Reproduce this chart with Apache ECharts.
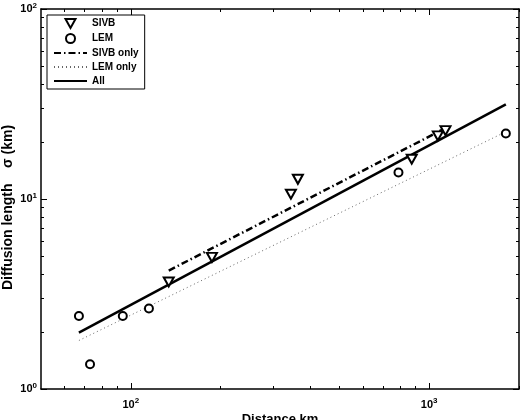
<!DOCTYPE html>
<html>
<head>
<meta charset="utf-8">
<script src="https://cdn.jsdelivr.net/npm/echarts@6/dist/echarts.min.js"></script>
<style>
  html, body { margin: 0; padding: 0; background: #fff; }
  #chart { width: 527px; height: 420px; }
</style>
</head>
<body>
<div id="chart"></div>
<script>
// data (distance km, sigma km)
const sivbPoints = [
  [134, 3.66], [187, 4.93], [344, 10.6], [363, 12.7],
  [874, 16.2], [1069, 21.5], [1134, 22.9]
]
const lemPoints = [
  [67, 2.42], [73, 1.35], [94, 2.42], [115, 2.65],
  [789, 13.8], [1807, 22.1]
]
// fitted lines, endpoints only
const sivbFit = [[134, 4.2], [1134, 23.6]]
const lemFit = [[67, 1.8], [1807, 22.6]]
const allFit = [[67, 1.98], [1807, 31.5]]

const xMajor = [100, 1000]
const xMinor = [60, 70, 80, 90, 200, 300, 400, 500, 600, 700, 800, 900, 2000]
const yMajor = [1, 10, 100]
const yMinor = [2, 3, 4, 5, 6, 7, 8, 9, 20, 30, 40, 50, 60, 70, 80, 90]

const FONT = "Liberation Sans"
const chart = echarts.init(document.getElementById("chart"))

const powLabel = (v) => "{b|10}{s|" + Math.round(Math.log10(v)) + "}"
const labelRich = {
  b: { fontFamily: FONT, fontSize: 11, fontWeight: "bold", color: "#000" },
  s: { fontFamily: FONT, fontSize: 8, fontWeight: "bold", color: "#000", padding: [0, 0, 7, 0] },
}

function xAxisOf(pos, major, withLabels) {
  return {
    type: "log", logBase: 10, min: 50, max: 2000, position: pos,
    axisLine: { show: major, lineStyle: { color: "#000", width: 1.5 } },
    axisTick: {
      show: true, inside: true, length: major ? 6 : 3,
      customValues: major ? xMajor : xMinor,
      lineStyle: { color: "#000", width: 1 },
    },
    axisLabel: withLabels
      ? { show: true, customValues: xMajor, margin: 8, formatter: powLabel, rich: labelRich }
      : { show: false },
    splitLine: { show: false },
    minorTick: { show: false },
    name: withLabels ? "Distance km" : "",
    nameLocation: "middle",
    nameGap: 24,
    nameMoveOverlap: false,
    nameTextStyle: { fontFamily: FONT, fontSize: 13, fontWeight: "bold", color: "#000" },
  }
}

function yAxisOf(pos, major, withLabels) {
  return {
    type: "log", logBase: 10, min: 1, max: 100, position: pos,
    axisLine: { show: major, lineStyle: { color: "#000", width: 1.5 } },
    axisTick: {
      show: true, inside: true, length: major ? 6 : 3,
      customValues: major ? yMajor : yMinor,
      lineStyle: { color: "#000", width: 1 },
    },
    axisLabel: withLabels
      ? { show: true, customValues: yMajor, margin: 4, formatter: powLabel, rich: labelRich }
      : { show: false },
    splitLine: { show: false },
    minorTick: { show: false },
    name: withLabels ? "Diffusion length    \u03c3 (km)" : "",
    nameLocation: "middle",
    nameGap: 26,
    nameMoveOverlap: false,
    nameTextStyle: { fontFamily: FONT, fontSize: 14, fontWeight: "bold", color: "#000", padding: [0, 17, 0, 0] },
  }
}

const downTriangle = "path://M0,0 L10,0 L5,9 Z"
const noMarker = { color: "rgba(0,0,0,0)" }

chart.setOption({
  animation: false,
  backgroundColor: "#fff",
  grid: { left: 41, right: 8, top: 9, bottom: 31, outerBoundsMode: "none" },
  xAxis: [
    xAxisOf("bottom", true, true),
    xAxisOf("bottom", false, false),
    xAxisOf("top", true, false),
    xAxisOf("top", false, false),
  ],
  yAxis: [
    yAxisOf("left", true, true),
    yAxisOf("left", false, false),
    yAxisOf("right", true, false),
    yAxisOf("right", false, false),
  ],
  legend: {
    orient: "vertical",
    left: 47, top: 15,
    backgroundColor: "#fff",
    borderColor: "#000", borderWidth: 1,
    padding: [3, 6, 3, 6],
    itemWidth: 33, itemHeight: 9, itemGap: 4,
    textStyle: { fontFamily: FONT, fontSize: 10, fontWeight: "bold", color: "#000" },
    data: ["SIVB", "LEM", "SIVB only", "LEM only", "All"],
  },
  series: [
    {
      name: "SIVB", type: "scatter", data: sivbPoints,
      symbol: downTriangle, symbolSize: [10, 9],
      itemStyle: { color: "#fff", borderColor: "#000", borderWidth: 2, opacity: 1 },
      z: 5,
    },
    {
      name: "LEM", type: "scatter", data: lemPoints,
      symbol: "circle", symbolSize: 8,
      itemStyle: { color: "#fff", borderColor: "#000", borderWidth: 2, opacity: 1 },
      z: 5,
    },
    {
      name: "SIVB only", type: "line", data: sivbFit, symbol: "none", itemStyle: noMarker,
      lineStyle: { color: "#000", width: 2.5, type: [7, 3, 1.5, 3] },
    },
    {
      name: "LEM only", type: "line", data: lemFit, symbol: "none", itemStyle: noMarker,
      lineStyle: { color: "#666", width: 1, type: [1, 3] },
    },
    {
      name: "All", type: "line", data: allFit, symbol: "none", itemStyle: noMarker,
      lineStyle: { color: "#000", width: 2.5 },
    },
  ],
})
</script>
</body>
</html>
